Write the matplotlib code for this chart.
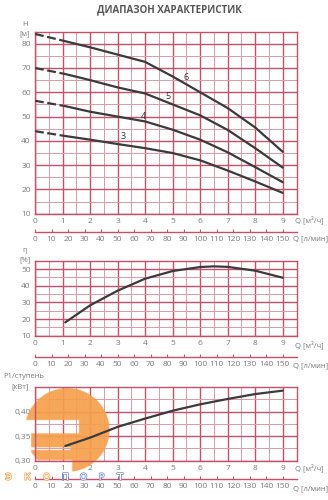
import numpy as np
import matplotlib
matplotlib.use("Agg")
import matplotlib.pyplot as plt
from matplotlib import patheffects as pe
from matplotlib.ticker import MultipleLocator, FuncFormatter

plt.rcParams["font.family"] = ["Open Sans", "DejaVu Sans"]

W, H = 328, 500  # figure size in pixels (dpi 100)

TITLE = "ДИАПАЗОН ХАРАКТЕРИСТИК"
Q_TICKS = list(range(0, 10))
LMIN_TICKS = list(range(0, 160, 10))

# head curves per stage count; the part from 0 to 1.1 is drawn dashed
Q_HEAD = [0, 1.1, 2, 3, 4, 5, 6, 7, 8, 9]
HEAD_6 = [84, 81, 78.5, 75.5, 72.5, 66.5, 60, 53.5, 45.5, 35.5]
HEAD_5 = [70, 67.5, 65, 62, 59.5, 55, 50.5, 44.5, 37, 29]
HEAD_4 = [56.5, 54.3, 52, 50, 48, 44.6, 40.5, 35.3, 29.2, 23]
HEAD_3 = [44, 42, 40.5, 38.7, 37, 35, 32, 27.8, 23.3, 18.6]
STAGES = ["6", "5", "4", "3"]
STAGE_LABEL_Q = [5.5, 4.83, 3.92, 3.21]
STAGE_LABEL_H = [66.2, 58.2, 50.0, 41.7]

# efficiency
Q_EFF = [1.1, 2, 3, 4, 5, 6, 6.5, 7, 8, 9]
EFF = [18, 28.2, 37, 44.2, 48.8, 51.2, 51.6, 51.3, 49, 44.8]

# power per stage
Q_POW = [1.1, 2, 3, 4, 5, 6, 7, 8, 9]
POW = [0.330, 0.347, 0.369, 0.386, 0.402, 0.415, 0.426, 0.436, 0.443]

GRID_MAJOR = "#c4516a"
GRID_MINOR = "#dc9aa9"
TXT = "#7a7a7a"
CURVE = "#3b3b3b"
ORANGE = "#f6a04d"
BLUE = "#7b8fd0"

X0, X1 = 35.0, 296.5  # plot area in pixels
QMAX = 9.5

fig = plt.figure(figsize=(W / 100, H / 100), dpi=100)


def px_axes(y0, y1):
    return fig.add_axes([X0 / W, 1 - y1 / H, (X1 - X0) / W, (y1 - y0) / H])


def ftext(x, y, s, **kw):
    kw.setdefault("fontsize", 6)
    kw.setdefault("color", TXT)
    kw.setdefault("va", "center")
    return fig.text(x / W, 1 - y / H, s, **kw)


def style_chart(ax, ylim, ymajor, yminor):
    ax.set_xlim(0, QMAX)
    ax.set_ylim(*ylim)
    ax.xaxis.set_major_locator(MultipleLocator(1))
    ax.xaxis.set_minor_locator(MultipleLocator(0.5))
    ax.yaxis.set_major_locator(MultipleLocator(ymajor))
    ax.yaxis.set_minor_locator(MultipleLocator(yminor))
    ax.grid(which="major", color=GRID_MAJOR, lw=1.0)
    ax.grid(which="minor", color=GRID_MINOR, lw=0.7)
    ax.set_axisbelow(True)
    for s in ax.spines.values():
        s.set_color(GRID_MAJOR)
        s.set_linewidth(1.0)
    ax.tick_params(which="both", length=0, labelsize=6, labelcolor=TXT)
    ax.tick_params(axis="x", pad=3)
    ax.tick_params(axis="y", pad=3)
    ax.xaxis.set_major_formatter(FuncFormatter(lambda v, _: f"{v:.0f}"))


def lmin_axis(y):
    ax = fig.add_axes([X0 / W, 1 - y / H, (X1 - X0) / W, 1e-4])
    ax.set_xlim(0, 150 * QMAX / 9)
    ax.set_yticks([])
    for side in ("top", "left", "right"):
        ax.spines[side].set_visible(False)
    ax.spines["bottom"].set_color(GRID_MAJOR)
    ax.spines["bottom"].set_linewidth(1.0)
    ax.patch.set_visible(False)
    ax.set_xticks(LMIN_TICKS)
    ax.tick_params(axis="x", direction="in", length=2.5, width=0.8,
                   color=GRID_MAJOR, labelsize=6, labelcolor=TXT, pad=3)
    return ax


# ---------------- title
ftext(169, 10, TITLE, ha="center", fontsize=7, weight="bold", color="#555555")

# ---------------- head chart
ax1 = px_axes(31.5, 213.8)
style_chart(ax1, (10, 85), 10, 5)
ax1.set_yticks(range(10, 90, 10))
for head, lab, lq, lh in zip([HEAD_6, HEAD_5, HEAD_4, HEAD_3], STAGES,
                             STAGE_LABEL_Q, STAGE_LABEL_H):
    ax1.plot(Q_HEAD[:2], head[:2], color=CURVE, lw=1.6, ls=(0, (4, 1.6)),
             solid_capstyle="butt", zorder=3)
    ax1.plot(Q_HEAD[1:], head[1:], color=CURVE, lw=1.6, zorder=3,
             solid_capstyle="round")
    ax1.text(lq, lh, lab, fontsize=6.5, color="#333333", ha="center",
             va="center", zorder=4)
ax1.set_xlim(0, QMAX)
ax1.set_ylim(10, 85)
ftext(25, 25, "H", ha="center", fontsize=5.5)
ftext(25, 33.5, "[м]", ha="center", fontsize=5.5)
ftext(295, 220, "Q [м³/ч]", ha="left", fontsize=5.5)
lmin_axis(231.7)
ftext(293, 238.5, "Q [л/мин]", ha="left", fontsize=5.5)

# ---------------- efficiency chart
ax2 = px_axes(260.7, 335.7)
style_chart(ax2, (10, 55), 10, 5)
ax2.set_yticks(range(10, 60, 10))
ax2.plot(Q_EFF, EFF, color=CURVE, lw=1.6, zorder=3, solid_capstyle="round")
ax2.set_xlim(0, QMAX)
ax2.set_ylim(10, 55)
ftext(25, 250, "η", ha="center", fontsize=5.5)
ftext(25, 259.5, "[%]", ha="center", fontsize=5.5)
ftext(295, 345, "Q [м³/ч]", ha="left", fontsize=5.5)
lmin_axis(356.7)
ftext(293, 366, "Q [л/мин]", ha="left", fontsize=5.5)

# ---------------- power chart
ax3 = px_axes(387.2, 460.7)
style_chart(ax3, (0.30, 0.45), 0.05, 0.025)
ax3.set_yticks([0.30, 0.35, 0.40])
ax3.yaxis.set_major_formatter(FuncFormatter(lambda v, _: f"{v:.2f}".replace(".", ",")))
ax3.plot(Q_POW, POW, color=CURVE, lw=1.6, zorder=3, solid_capstyle="round")
ftext(3, 376.7, "P1/ступень", ha="left", fontsize=5.5)
ftext(20, 387, "[кВт]", ha="center", fontsize=5.5)
ftext(295, 468.3, "Q [м³/ч]", ha="left", fontsize=5.5)
lmin_axis(479)
ftext(293, 488.3, "Q [л/мин]", ha="left", fontsize=5.5)

# ---------------- watermark logo (orange "Э" mark), built as a raster mask
lx0, lx1, ly0, ly1 = 20.0, 112.0, 382.0, 476.0
gx, gy = np.meshgrid(np.linspace(lx0, lx1, 276), np.linspace(ly0, ly1, 282))
cx, cy, R = 66.7, 430.0, 42.0
mask = (gx - cx) ** 2 + (gy - cy) ** 2 <= R ** 2
mask &= ~((gy > 420) & (gy < 433.3) & (gx < 78.3))
mask &= ~((gy > 460) & (gx < 71.7))
mask &= ~((gy > 447.3) & (gy < 450) & (gx < 70))
mask &= ~((gy > 433.3) & (gy < 460) & (gx < 31))
rgba = np.zeros(mask.shape + (4,))
rgba[..., :3] = matplotlib.colors.to_rgb(ORANGE)
rgba[..., 3] = mask * 0.93
ax3.imshow(rgba, extent=(lx0 / W, lx1 / W, 1 - ly1 / H, 1 - ly0 / H),
           transform=fig.transFigure, origin="upper", aspect="auto",
           interpolation="bilinear", zorder=1.5, clip_on=False)
ax3.set_xlim(0, QMAX)
ax3.set_ylim(0.30, 0.45)

# watermark wordmark, outlined letters
for ch, x, col in zip("ЭКОПОРТ", [8.5, 27.5, 46.5, 65, 83.5, 101.5, 120],
                      [ORANGE] * 3 + [BLUE] * 4):
    ftext(x, 477.3, ch, ha="center", fontsize=6.5, color="white",
          family="DejaVu Sans",
          path_effects=[pe.withStroke(linewidth=1.1, foreground=col)])

fig.savefig("out.png", dpi=100)
